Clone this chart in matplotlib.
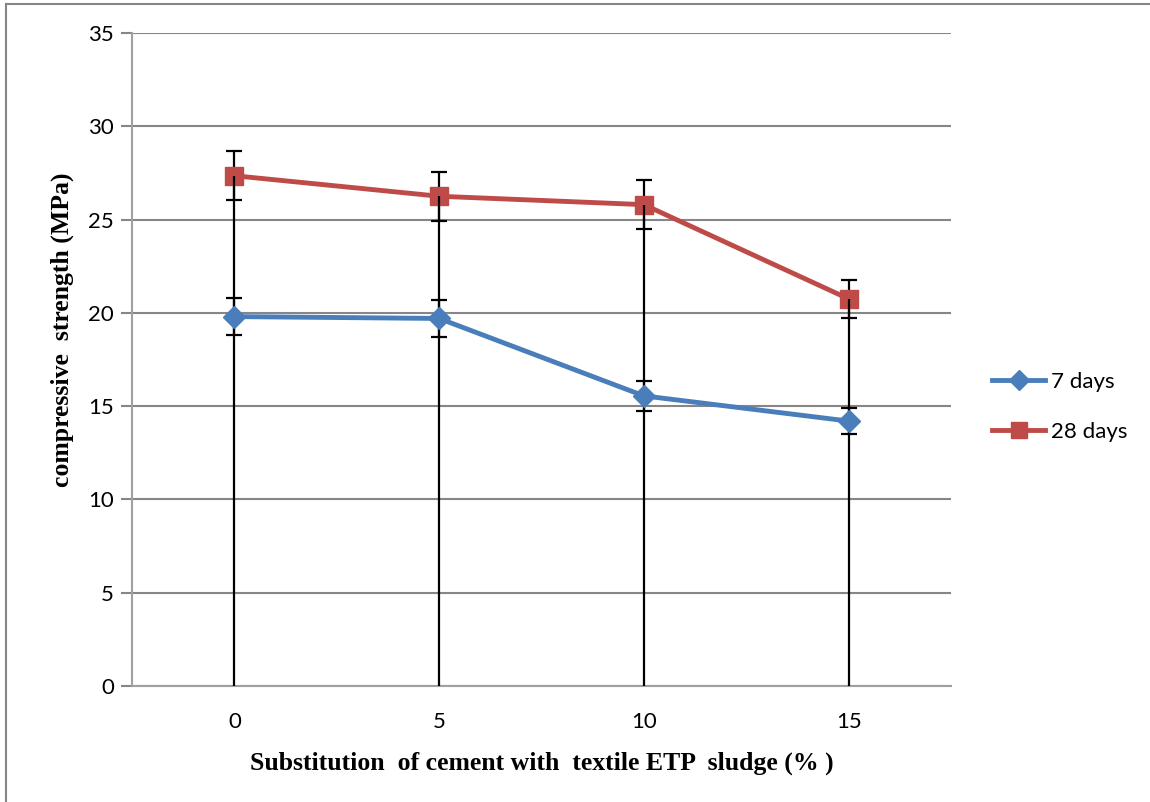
import matplotlib
matplotlib.use("Agg")
import matplotlib.pyplot as plt
from matplotlib.lines import Line2D
import numpy as np

# substitution levels (%) and compressive strength (MPa)
levels = ["0", "5", "10", "15"]
days7 = [19.8, 19.7, 15.55, 14.2]
days7_err = [1.0, 1.0, 0.8, 0.7]
days28 = [27.35, 26.25, 25.8, 20.75]
days28_err = [1.3, 1.3, 1.3, 1.0]

BLUE = "#4A7EBB"
RED = "#BE4B48"
GRID = "#868686"

fig = plt.figure(figsize=(11.5, 8.02), dpi=100)
ax = fig.add_axes([132 / 1150, 1 - 686 / 802, (951 - 132) / 1150, (686 - 33) / 802])

xs = np.arange(len(levels))

# error bars (behind the lines)
ax.errorbar(xs, days7, yerr=days7_err, fmt="none", ecolor="black",
            elinewidth=1.6, capsize=6, capthick=1.6, zorder=2)
ax.errorbar(xs, days28, yerr=days28_err, fmt="none", ecolor="black",
            elinewidth=1.6, capsize=6, capthick=1.6, zorder=2)

ax.plot(xs, days28, color=RED, lw=3.5, marker="s", ms=13, mec=RED, mfc=RED,
        zorder=3, label="28 days")
# long drop lines down to zero
ax.vlines(xs, 0, days28, color="black", lw=1.6, zorder=3.5)
ax.plot(xs, days7, color=BLUE, lw=3.5, marker="D", ms=11, mec=BLUE, mfc=BLUE,
        zorder=4, label="7 days")

ax.set_xlim(-0.5, 3.5)
ax.set_ylim(0, 35)
ax.set_yticks(range(0, 36, 5))
ax.set_xticks(xs)
ax.set_xticklabels(levels)
ax.yaxis.grid(True, color=GRID, lw=1.5)
ax.set_axisbelow(True)
for s in ("top", "right"):
    ax.spines[s].set_visible(False)
ax.spines["left"].set_color("#A0A0A0")
ax.spines["left"].set_linewidth(1.5)
ax.spines["bottom"].set_color("#A0A0A0")
ax.spines["bottom"].set_linewidth(1.5)
ax.tick_params(axis="y", length=8, width=1.5, color=GRID, labelsize=16, pad=5)
ax.tick_params(axis="x", length=0, labelsize=16, pad=19)
for lab in ax.get_xticklabels() + ax.get_yticklabels():
    lab.set_family("Lato")

ax.set_xlabel("Substitution  of cement with  textile ETP  sludge (% )",
              family="Liberation Serif", fontweight="bold", fontsize=18.5, labelpad=14)
ax.set_ylabel("compressive  strength (MPa)", family="Liberation Serif",
              fontweight="bold", fontsize=18.5)
ax.yaxis.set_label_coords(74 / 1150, 1 - 330 / 802, transform=fig.transFigure)

handles = [Line2D([], [], color=BLUE, lw=3.5, marker="D", ms=10, mec=BLUE),
           Line2D([], [], color=RED, lw=3.5, marker="s", ms=11, mec=RED)]
fig.legend(handles, ["7 days", "28 days"], loc="center left",
           bbox_to_anchor=(972 / 1150, 1 - 407 / 802), frameon=False,
           prop={"family": "Lato", "size": 16}, handlelength=2.4,
           handletextpad=0.25, labelspacing=1.35)

# chart area border (top and left visible)
fig.add_artist(Line2D([6 / 1150, 1], [1 - 4 / 802, 1 - 4 / 802], color=GRID, lw=1.5,
                      transform=fig.transFigure))
fig.add_artist(Line2D([6 / 1150, 6 / 1150], [0, 1 - 4 / 802], color=GRID, lw=1.5,
                      transform=fig.transFigure))

fig.savefig("out.png", dpi=100)
